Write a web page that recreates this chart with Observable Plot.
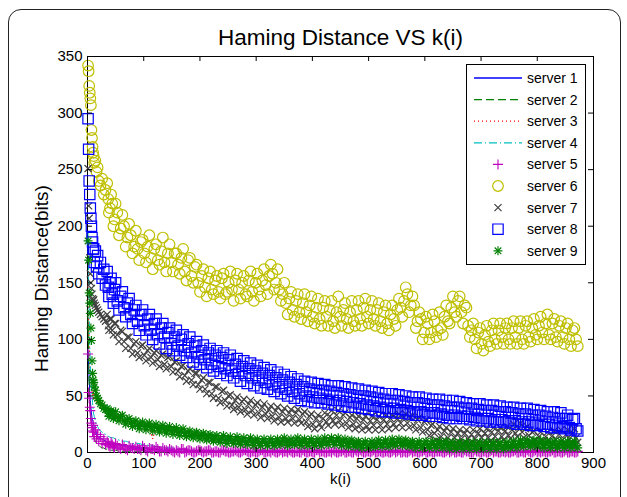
<!DOCTYPE html>
<html><head><meta charset="utf-8">
<script src="https://cdn.jsdelivr.net/npm/d3@7"></script>
<script src="https://cdn.jsdelivr.net/npm/@observablehq/plot@0.6"></script>
<style>
body{margin:0;background:#fff;font-family:"Liberation Sans",Arial,sans-serif;}
#wrap{position:relative;width:627px;height:497px;overflow:hidden;background:#fff;}
#outer{position:absolute;left:8px;top:9px;width:611px;height:560px;border:1.5px solid #222;border-radius:13px;}
#chart{position:absolute;left:0;top:0;}
#legend{position:absolute;left:466px;top:64px;}
</style>
</head><body>
<div id="wrap"><div id="outer"></div><div id="chart"></div><div id="legend"></div></div>
<script>
const title = "Haming Distance VS k(i)";
const xLabel = "k(i)";
const yLabel = "Haming Distance(bits)";
const xTicks = [0,100,200,300,400,500,600,700,800,900];
const yTicks = [0,50,100,150,200,250,300,350];
const names = ["server 1","server 2","server 3","server 4","server 5","server 6","server 7","server 8","server 9"];

// sample positions k(i), first set
const k = [
1,2,3,4,5,6,7,8,9,10,
11,12,14,16,18,20,23,26,29,32,
35,38,42,46,50,56,62,68,74,80,
86,92,98,104,110,116,122,128,134,140,
146,152,158,164,170,176,182,188,194,200,
206,212,218,224,230,236,242,248,254,260,
266,272,278,284,290,296,302,308,314,320,
326,332,338,344,350,356,362,368,374,380,
386,392,398,404,410,416,422,428,434,440,
446,452,458,464,470,476,482,488,494,500,
506,512,518,524,530,536,542,548,554,560,
566,572,578,584,590,596,602,608,614,620,
626,632,638,644,650,656,662,668,674,680,
686,692,698,704,710,716,722,728,734,740,
746,752,758,764,770,776,782,788,794,800,
806,812,818,824,830,836,842,848,854,860,
866,872];
// second set of sample positions k(i) for the marker series
const kB = [
37,40,44,48,53,59,65,71,77,83,
89,95,101,107,113,119,125,131,137,143,
149,155,161,167,173,179,185,191,197,203,
209,215,221,227,233,239,245,251,257,263,
269,275,281,287,293,299,305,311,317,323,
329,335,341,347,353,359,365,371,377,383,
389,395,401,407,413,419,425,431,437,443,
449,455,461,467,473,479,485,491,497,503,
509,515,521,527,533,539,545,551,557,563,
569,575,581,587,593,599,605,611,617,623,
629,635,641,647,653,659,665,671,677,683,
689,695,701,707,713,719,725,731,737,743,
749,755,761,767,773,779,785,791,797,803,
809,815,821,827,833,839,845,851,857,863,
869];

// server 1 (blue solid line)
const s1 = [
90,76,64,54,46,40,35,31,29,27,
25,23,20,17,15,14,13,12,11,10,
9,9,8,8,7,7,6,6,5,5,
5,4,4,4,3,3,3,2,2,2,
2,2,1,1,1,1,1,1,0,1,
0,1,0,0,1,0,0,0,1,0,
0,0,0,0,0,0,0,0,0,0,
0,0,0,0,0,0,0,0,0,0,
0,0,0,0,0,0,0,0,0,0,
0,0,0,0,0,0,0,0,0,0,
0,0,0,0,0,0,0,0,0,0,
0,0,0,0,0,0,0,0,0,0,
0,0,0,0,0,0,0,0,0,0,
0,0,0,0,0,0,0,0,0,0,
0,0,0,0,0,0,0,0,0,0,
0,0,0,0,0,0,0,0,0,0,
0,0];
// server 2 (green dashed line)
const s2 = [
120,84,60,46,36,30,25,21,18,16,
14,12,10,8,7,6,5,4,4,3,
3,3,2,2,2,1,1,1,1,1,
1,1,0,1,0,0,1,0,0,0,
0,0,0,0,0,0,0,0,0,0,
0,0,0,0,0,0,0,0,0,0,
0,0,0,0,0,0,0,0,0,0,
0,0,0,0,0,0,0,0,0,0,
0,0,0,0,0,0,0,0,0,0,
0,0,0,0,0,0,0,0,0,0,
0,0,0,0,0,0,0,0,0,0,
0,0,0,0,0,0,0,0,0,0,
0,0,0,0,0,0,0,0,0,0,
0,0,0,0,0,0,0,0,0,0,
0,0,0,0,0,0,0,0,0,0,
0,0,0,0,0,0,0,0,0,0,
0,0];
// server 3 (red dotted line)
const s3 = [
150,118,96,82,72,64,58,54,50,46,
55,50,48,45,44,42,40,39,37,36,
36,35,34,33,32,30,29,28,27,26,
25,24,24,23,22,12,22,21,20,20,
19,19,18,18,17,17,16,15,15,15,
14,14,13,13,12,12,11,11,11,10,
10,10,10,9,9,9,9,9,9,8,
9,9,9,9,9,9,9,9,9,9,
9,9,9,9,9,9,10,10,10,10,
10,9,9,8,8,8,7,7,7,7,
7,8,8,8,8,8,8,9,9,9,
8,8,7,7,7,7,7,7,7,7,
7,7,6,6,6,6,6,6,6,6,
6,6,6,6,6,6,6,6,6,6,
6,6,7,7,7,7,8,8,8,8,
7,7,7,7,7,7,7,7,7,7,
7,7];
// server 4 (cyan dash-dot line)
const s4 = [
195,150,120,96,80,68,58,50,44,38,
34,32,28,25,23,21,19,18,17,16,
15,14,13,13,12,11,10,10,9,8,
8,8,7,7,6,6,5,5,5,4,
4,4,3,3,3,2,2,2,2,1,
1,1,1,1,1,0,1,0,0,0,
0,0,0,0,0,0,0,0,0,0,
0,0,0,0,0,0,0,0,0,0,
0,0,0,0,0,0,0,0,0,0,
0,0,0,0,0,0,0,0,0,0,
0,0,0,0,0,0,0,0,0,0,
0,0,0,0,0,0,0,0,0,0,
0,0,0,0,0,0,0,0,0,0,
0,0,0,0,0,0,0,0,0,0,
0,0,0,0,0,0,0,0,0,0,
0,0,0,0,0,0,0,0,0,0,
0,0];
// server 5 (magenta +)
const s5 = [
87,53,48,40,37,30,26,22,19,24,
18,14,20,12,16,10,14,8,12,7,
10,6,9,5,8,4,7,3,6,4,
5,3,6,2,4,3,5,1,4,2,
3,1,2,0,3,1,2,0,1,2,
0,1,2,0,1,0,2,1,0,1,
1,0,2,1,0,1,0,2,0,1,
0,1,0,2,1,0,1,0,1,0,
1,0,1,0,2,1,0,1,0,1,
0,1,0,1,0,2,0,1,0,1,
1,0,1,0,1,0,1,0,2,0,
0,1,0,1,0,1,0,1,0,1,
1,0,1,0,2,0,1,0,1,0,
0,1,0,1,0,1,0,1,0,1,
1,0,1,0,1,0,2,0,1,0,
0,1,0,1,0,1,0,1,0,1,
0,1];
const s5B = [
8,5,7,4,6,3,5,2,4,3,
3,2,4,1,3,2,3,1,2,1,
2,0,1,3,0,2,1,0,2,1,
1,2,0,1,0,2,1,0,1,2,
0,1,2,0,1,0,1,2,0,1,
2,0,1,0,1,2,0,1,0,2,
0,1,0,2,0,1,0,1,2,0,
1,2,0,1,0,1,2,0,1,0,
2,0,1,0,1,0,2,1,0,1,
0,2,1,0,1,2,0,1,0,1,
1,0,2,1,0,1,0,2,1,0,
2,1,0,1,0,2,1,0,1,0,
0,1,2,0,1,0,1,0,2,1,
1,0,1,2,0,1,0,2,0,1,
0];
// server 6 (yellow circles)
const s6 = [
342,337,324,318,313,307,285,278,270,265,
262,256,258,248,252,240,236,242,228,232,
238,212,228,200,220,192,210,182,202,176,
196,170,188,168,192,162,184,166,190,160,
184,160,176,158,180,152,172,150,166,142,
162,138,160,140,156,136,158,142,160,134,
158,136,156,138,160,134,158,138,162,140,
166,144,162,134,150,122,142,120,140,118,
140,116,138,114,136,112,134,112,134,110,
138,112,132,110,134,112,134,112,136,114,
134,112,132,110,130,108,130,112,136,120,
146,124,138,110,124,100,120,100,122,102,
124,104,130,114,138,120,138,114,128,102,
114,92,110,90,112,94,114,96,114,96,
114,96,116,96,116,96,116,98,118,100,
120,100,122,100,118,98,116,96,114,94,
110,94];
const s6B = [
224,216,220,206,212,198,200,190,192,182,
180,186,176,182,172,180,170,178,168,176,
168,176,166,172,160,170,156,164,150,156,
146,154,144,152,142,154,140,150,144,152,
144,150,140,152,142,150,144,152,148,156,
158,150,144,140,132,136,126,134,124,132,
124,130,120,128,118,128,120,126,116,124,
120,126,118,124,116,126,118,128,120,126,
118,126,116,124,114,122,118,126,128,134,
140,130,130,116,118,106,114,106,116,108,
110,120,116,128,124,134,124,130,112,108,
100,106,96,104,98,108,100,108,102,110,
100,110,102,110,100,112,102,110,104,112,
106,114,104,114,102,112,102,110,100,108,
100];
// server 7 (dark grey x)
const s7 = [
251,218,207,172,158,150,145,140,136,134,
135,132,130,128,126,124,122,120,118,116,
122,108,118,104,114,98,107,92,102,87,
98,84,95,81,92,79,90,76,87,74,
85,71,81,67,77,63,74,60,70,56,
66,52,62,48,58,44,55,41,51,38,
49,36,47,34,46,33,44,31,43,30,
41,28,40,27,39,27,38,26,38,26,
36,23,34,21,33,22,35,24,37,25,
37,24,35,22,33,21,32,20,32,20,
32,20,32,20,33,21,33,22,34,22,
34,22,33,20,31,18,29,15,25,11,
23,10,22,9,21,9,20,8,20,8,
20,8,21,9,21,10,22,10,22,11,
23,12,25,14,26,13,23,9,19,6,
18,6,18,7,19,7,20,8,20,8,
21,9];
const s7B = [
112,118,108,114,104,108,98,102,92,96,
88,94,86,90,84,88,82,86,78,84,
76,80,72,76,68,72,64,70,60,64,
56,62,52,58,48,54,46,50,42,46,
40,45,38,43,37,42,35,40,34,38,
32,37,31,36,30,35,30,35,29,34,
27,32,25,30,25,30,27,32,28,33,
28,33,26,31,25,30,24,29,23,28,
24,29,24,29,25,30,25,30,26,31,
26,31,24,29,22,27,20,24,17,20,
14,19,13,18,13,17,12,17,12,16,
12,17,13,17,13,18,14,19,14,19,
15,20,17,22,18,21,15,18,11,14,
10,14,10,15,11,16,11,16,12,17,
13];
// server 8 (blue squares)
const s8 = [
295,268,240,228,216,207,200,190,186,180,
180,168,178,164,174,158,168,154,162,148,
160,138,154,132,150,126,142,120,136,114,
130,108,126,104,122,100,118,96,114,92,
110,90,108,86,104,84,102,80,98,78,
95,75,92,72,90,70,88,68,86,66,
83,63,81,61,79,59,77,57,75,56,
73,54,71,52,69,50,67,48,65,46,
63,45,62,44,61,44,60,43,59,42,
59,41,58,40,57,40,56,39,55,38,
54,37,53,36,52,36,52,35,51,35,
50,34,49,33,49,33,48,32,47,32,
47,31,46,30,46,30,45,30,44,29,
43,28,43,28,42,27,42,27,41,27,
40,26,40,25,39,25,39,24,38,24,
37,23,36,22,36,22,35,21,33,20,
30,19];
const s8B = [
146,150,140,144,134,138,128,132,122,126,
116,122,112,118,108,114,104,110,102,106,
96,102,94,100,90,96,88,94,84,90,
82,88,78,86,76,84,74,82,72,78,
70,76,68,74,66,72,64,70,62,68,
60,66,58,64,56,62,54,60,52,58,
50,56,49,55,48,55,47,54,46,53,
46,52,45,51,44,50,43,50,42,49,
41,48,40,47,39,46,39,46,38,45,
37,44,36,44,36,43,35,42,35,42,
34,41,33,40,33,40,32,39,32,39,
31,38,30,37,30,37,29,36,29,36,
28,35,28,34,27,34,27,33,26,33,
25,32,25,31,24,30,23,30,22,29,
21];
// server 9 (green *)
const s9 = [
187,170,141,132,123,110,99,81,70,64,
62,58,55,50,48,46,43,42,39,38,
39,32,37,30,36,28,33,25,30,23,
28,21,27,20,26,19,25,18,24,17,
23,16,22,15,21,14,19,13,18,12,
17,11,16,10,15,9,15,8,14,8,
14,7,13,7,13,6,12,6,12,6,
12,6,12,7,13,6,12,7,13,6,
12,6,12,6,12,6,13,7,13,7,
13,6,12,5,11,5,10,4,10,4,
10,5,11,5,11,5,12,6,12,6,
11,5,10,4,10,4,10,4,10,4,
10,4,10,3,9,3,9,3,9,3,
9,3,9,3,9,3,9,3,9,3,
9,4,10,4,11,5,11,5,11,5,
11,4,10,4,10,4,10,4,10,4,
10,4];
const s9B = [
35,36,33,34,31,32,28,29,26,27,
24,25,23,24,22,23,21,22,20,21,
19,20,18,19,17,18,15,17,14,16,
13,15,12,14,11,13,11,12,10,12,
10,11,9,11,9,10,8,10,8,10,
8,10,8,11,9,10,8,11,9,10,
8,10,8,10,8,10,9,11,9,11,
9,10,8,10,7,9,6,8,6,8,
6,9,7,9,7,9,8,10,8,10,
7,9,6,8,6,8,6,8,6,8,
6,8,6,7,5,7,5,7,5,7,
5,7,5,7,5,7,5,7,5,7,
5,7,6,8,7,9,7,9,7,9,
7,8,6,8,6,8,6,8,6,8,
6];

const C = {blue:"#0000ff", green:"#008000", red:"#ff0000", cyan:"#00bfbf", magenta:"#bf00bf", yellow:"#bfbf00", grey:"#404040"};
const lineSpecs = [
  {v:s1, color:C.blue, dash:null},
  {v:s2, color:C.green, dash:"8,4"},
  {v:s3, color:C.red, dash:"1,3"},
  {v:s4, color:C.cyan, dash:"8,3,1,3"}
];
const dotSpecs = [
  {v:s5, vb:s5B, color:C.magenta, sw:1.1, parts:[{symbol:"plus", r:3.33}]},
  {v:s6, vb:s6B, color:C.yellow, sw:1.2, parts:[{symbol:"circle", r:5.3}]},
  {v:s7, vb:s7B, color:C.grey, sw:1.2, parts:[{symbol:"times", r:3.3}]},
  {v:s8, vb:s8B, color:C.blue, sw:1.2, parts:[{symbol:"square2", r:6.6}]},
  {v:s9, vb:s9B, color:C.green, sw:1.2, parts:[{symbol:"plus", r:3.0}, {symbol:"times", r:3.1}]}
];

const W = 627, H = 497, mL = 87, mR = 34, mT = 56, mB = 45;
const innerH = H - mT - mB, innerW = W - mL - mR;
const marks = [Plot.frame({stroke:"#000", strokeWidth:1})];
for (const s of lineSpecs) {
  marks.push(Plot.line(s.v, {x:k, y:s.v, stroke:s.color, strokeWidth:1, strokeDasharray:s.dash || undefined}));
}
for (const s of dotSpecs) {
  const xs = k.concat(kB), ys = s.v.concat(s.vb);
  for (const p of s.parts) {
    marks.push(Plot.dot(ys, {x:xs, y:ys, symbol:p.symbol, r:p.r, stroke:s.color, fill:"none", strokeWidth:s.sw}));
  }
}
marks.push(
  Plot.tickX(xTicks, {x:d=>d, insetBottom:innerH-5, stroke:"#000"}),
  Plot.tickX(xTicks, {x:d=>d, insetTop:innerH-5, stroke:"#000"}),
  Plot.tickY(yTicks, {y:d=>d, insetRight:innerW-5, stroke:"#000"}),
  Plot.tickY(yTicks, {y:d=>d, insetLeft:innerW-5, stroke:"#000"}),
  Plot.axisX({ticks:xTicks, tickSize:0, tickPadding:5, fontSize:15, label:null}),
  Plot.axisY({ticks:yTicks, tickSize:0, tickPadding:5, fontSize:15, label:null}),
  Plot.text([xLabel], {text:d=>d, frameAnchor:"bottom", dy:31, fontSize:15}),
  Plot.text([yLabel], {text:d=>d, frameAnchor:"left", textAnchor:"middle", lineAnchor:"middle", dx:-46, dy:24, rotate:-90, fontSize:19}),
  Plot.text([title], {text:d=>d, frameAnchor:"top", lineAnchor:"middle", dy:-19, fontSize:22.5})
);

const chart = Plot.plot({
  width:W, height:H, marginLeft:mL, marginRight:mR, marginTop:mT, marginBottom:mB,
  x:{domain:[0,900]}, y:{domain:[0,350]},
  style:{fontFamily:"'Liberation Sans', Arial, sans-serif", color:"#000", background:"transparent", overflow:"visible"},
  marks
});
document.getElementById("chart").appendChild(chart);

// legend
const legendItems = names.map((n, i) => i < 4 ? {name:n, kind:"line", ...lineSpecs[i]} : {name:n, kind:"dot", ...dotSpecs[i-4]});
const LW = 120, LH = 201;
const lg = d3.select("#legend").append("svg").attr("width", LW).attr("height", LH);
lg.append("rect").attr("x",0.5).attr("y",0.5).attr("width",LW-1).attr("height",LH-1).attr("fill","#fff").attr("stroke","#000");
const symMap = {plus:d3.symbolPlus, circle:d3.symbolCircle, times:d3.symbolTimes, square2:d3.symbolSquare2};
legendItems.forEach((it, i) => {
  const y = 14 + i*21.6;
  if (it.kind === "line") {
    lg.append("line").attr("x1",8).attr("x2",56).attr("y1",y).attr("y2",y)
      .attr("stroke",it.color).attr("stroke-width",1.3).attr("stroke-dasharray", it.dash || null);
  } else {
    for (const p of it.parts) {
      lg.append("path").attr("d", d3.symbol(symMap[p.symbol], Math.PI*p.r*p.r)())
        .attr("transform",`translate(32,${y})`).attr("fill","none").attr("stroke",it.color).attr("stroke-width",it.sw);
    }
  }
  lg.append("text").attr("x",61).attr("y",y).attr("dy","0.35em").attr("font-size",14)
    .attr("font-family","'Liberation Sans', Arial, sans-serif").text(it.name);
});
</script>
</body></html>
